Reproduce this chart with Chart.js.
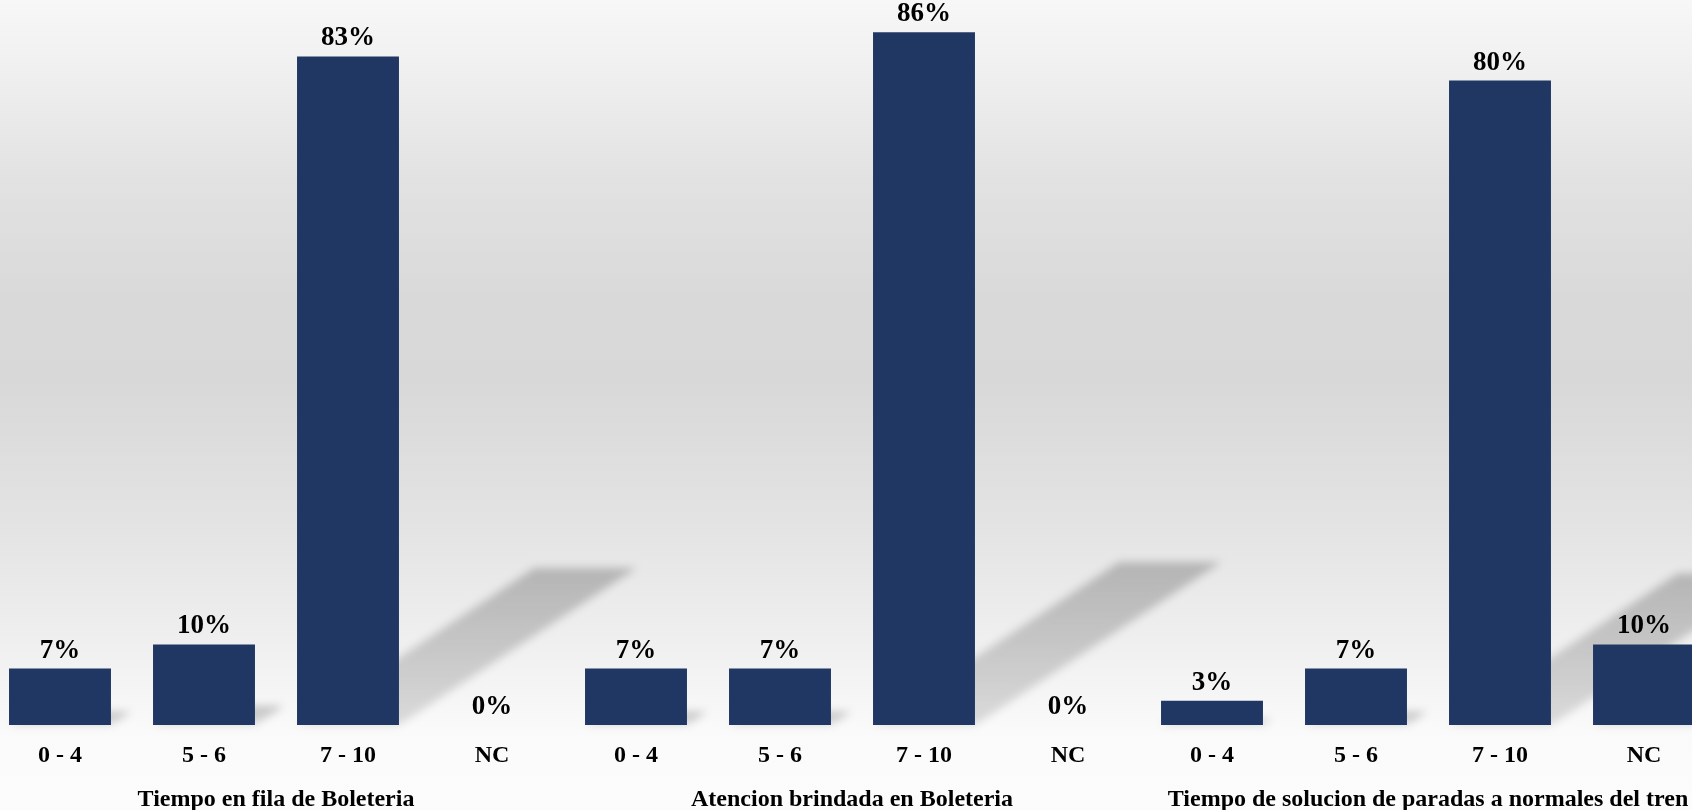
<!DOCTYPE html>
<html>
<head>
<meta charset="utf-8">
<script src="https://cdn.jsdelivr.net/npm/chart.js@4/dist/chart.umd.min.js"></script>
<style>
  html, body { margin: 0; padding: 0; width: 1692px; height: 810px; overflow: hidden; }
  body {
    background: linear-gradient(to bottom,
      #f7f7f7 0px, #f0f0f0 70px, #e2e2e2 180px, #d9d9d9 300px, #d8d8d8 380px,
      #e3e3e3 520px, #eeeeee 630px, #f6f6f6 700px, #fafafa 730px, #fcfcfc 810px);
  }
  #wrap { position: absolute; left: -12px; top: 0; width: 1728px; height: 810px; }
</style>
</head>
<body>
<div id="wrap"><canvas id="c"></canvas></div>
<script>
// Score bands shown under each question
const bands = ['0 - 4', '5 - 6', '7 - 10', 'NC'];
// Questions (one group of bands each)
const groups = [
  'Tiempo en fila de Boleteria',
  'Atencion brindada en Boleteria',
  'Tiempo de solucion de paradas a normales del tren'
];
// Percentage of answers per band, one array per question
const filaBoleteria = [7, 10, 83, 0];
const atencionBoleteria = [7, 7, 86, 0];
const solucionParadas = [3, 7, 80, 10];

const labels = groups.flatMap(() => bands);
const values = [...filaBoleteria, ...atencionBoleteria, ...solucionParadas];

const SERIF = '"Liberation Serif", "Times New Roman", serif';

// Slanted drop shadow cast by each bar onto the floor
const barShadows = {
  id: 'barShadows',
  beforeDatasetsDraw(chart) {
    const ctx = chart.ctx;
    const meta = chart.getDatasetMeta(0);
    ctx.save();
    ctx.filter = 'blur(4px)';
    meta.data.forEach(bar => {
      const h = bar.base - bar.y;
      if (h <= 0) return;
      const left = bar.x - bar.width / 2;
      const right = bar.x + bar.width / 2;
      const dx = 0.355 * h, dy = 0.235 * h;
      const g = ctx.createLinearGradient(0, bar.base, 0, bar.base - dy);
      g.addColorStop(0, 'rgba(0,0,0,0.12)');
      g.addColorStop(1, 'rgba(0,0,0,0.22)');
      ctx.fillStyle = g;
      ctx.beginPath();
      ctx.moveTo(left, bar.base);
      ctx.lineTo(right, bar.base);
      ctx.lineTo(right + dx, bar.base - dy);
      ctx.lineTo(left + dx, bar.base - dy);
      ctx.closePath();
      ctx.fill();
    });
    ctx.restore();
  }
};

// Percentage written above every bar
const valueLabels = {
  id: 'valueLabels',
  afterDatasetsDraw(chart) {
    const ctx = chart.ctx;
    const ds = chart.data.datasets[0];
    const meta = chart.getDatasetMeta(0);
    ctx.save();
    ctx.font = 'bold 27px ' + SERIF;
    ctx.fillStyle = '#000';
    ctx.textAlign = 'center';
    ctx.textBaseline = 'alphabetic';
    meta.data.forEach((bar, i) => {
      ctx.fillText(ds.data[i] + '%', bar.x, bar.y - 11);
    });
    ctx.restore();
  }
};

new Chart(document.getElementById('c'), {
  type: 'bar',
  data: {
    labels: labels,
    datasets: [{
      data: values,
      backgroundColor: '#213763',
      borderWidth: 0,
      categoryPercentage: 1,
      barPercentage: 0.708
    }]
  },
  options: {
    responsive: true,
    maintainAspectRatio: false,
    animation: false,
    layout: { padding: 0 },
    plugins: { legend: { display: false }, tooltip: { enabled: false } },
    scales: {
      y: { display: false, min: 0, max: 90 },
      x: {
        position: 'bottom',
        grid: { display: false, drawTicks: false },
        border: { display: false },
        ticks: {
          color: '#000',
          font: { family: SERIF, size: 24, weight: 'bold' },
          padding: 16,
          maxRotation: 0,
          autoSkip: false
        },
        afterFit(scale) { scale.height = 58; }
      },
      groups: {
        type: 'category',
        position: 'bottom',
        labels: groups,
        offset: true,
        grid: { display: false, drawTicks: false },
        border: { display: false },
        ticks: {
          color: '#000',
          font: { family: SERIF, size: 24, weight: 'bold' },
          padding: 2,
          maxRotation: 0,
          autoSkip: false
        },
        afterFit(scale) { scale.height = 27; }
      }
    }
  },
  plugins: [barShadows, valueLabels]
});
</script>
</body>
</html>
